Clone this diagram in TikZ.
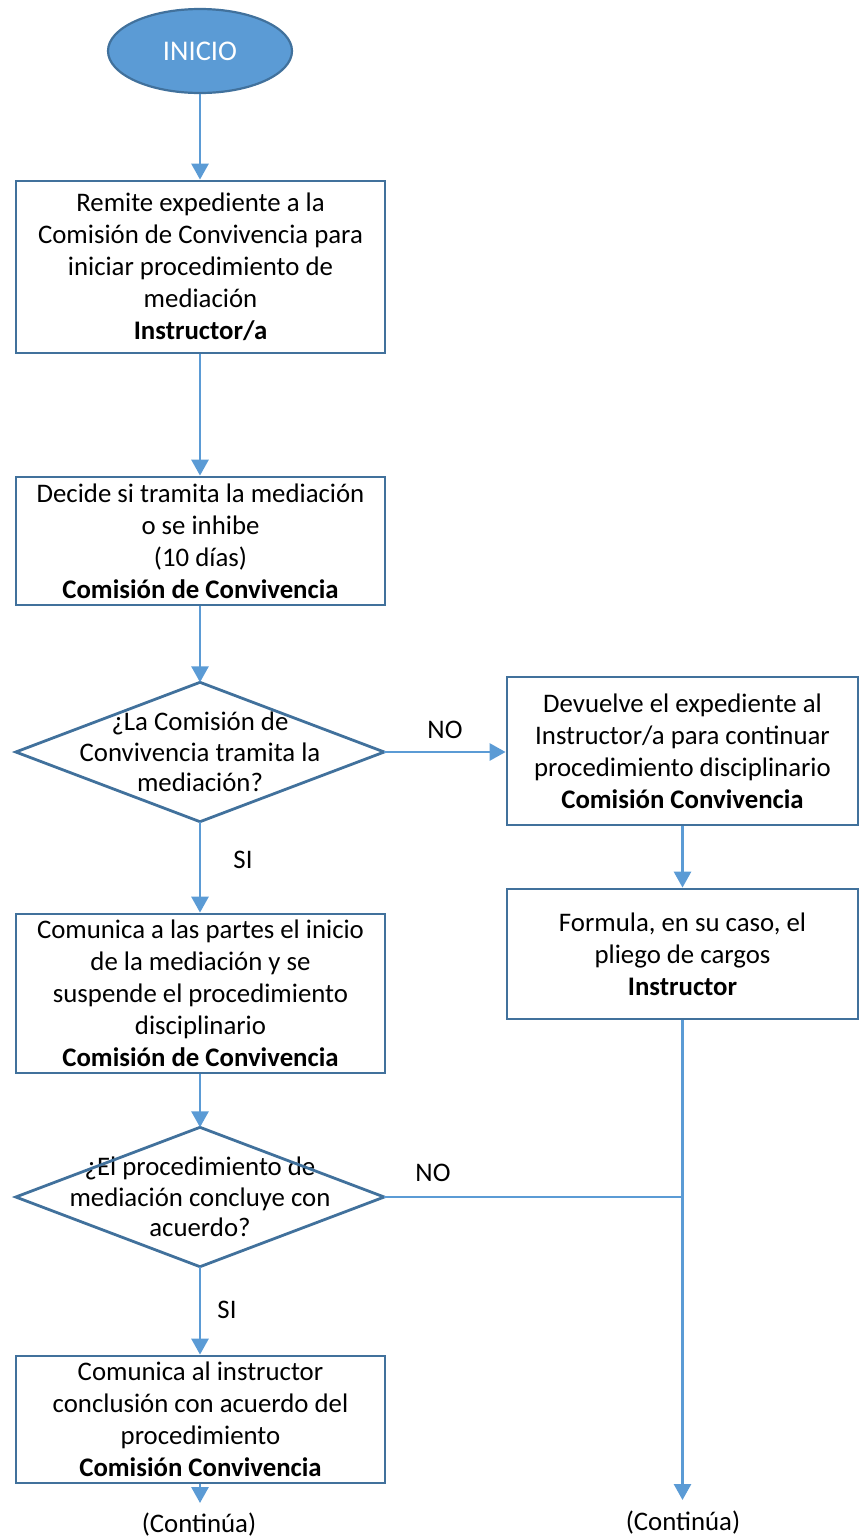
\documentclass[tikz,border=0pt]{standalone}
\usepackage{fontspec}
\setmainfont{Carlito}
\usetikzlibrary{shapes.geometric,arrows.meta}
\definecolor{boxline}{HTML}{41719C}
\definecolor{connblue}{HTML}{5B9BD5}
\begin{document}
\begin{tikzpicture}[x=1pt,y=-1pt,
  txt/.style={font=\fontsize{26.8}{32}\selectfont, align=center, inner sep=0pt},
  procbox/.style={txt, draw=boxline, line width=2.8pt, rectangle, minimum width=369pt},
  rightbox/.style={txt, draw=boxline, line width=2.8pt, rectangle, minimum width=351pt},
  decbox/.style={font=\fontsize{26.8}{30.5}\selectfont, align=center, inner sep=0pt, minimum width=368pt, minimum height=139pt},
  decshape/.style={draw=boxline, line width=2.8pt, line join=miter},
  arrowline/.style={draw=connblue, line width=2.8pt, -{Triangle[length=16pt,width=17pt]}},
  plainline/.style={draw=connblue, line width=2.8pt},
  lab/.style={txt}
]
\useasboundingbox (0,0) rectangle (865,1540);

\node[ellipse, fill=connblue, draw=boxline, line width=2.2pt, minimum width=184pt, minimum height=84pt, inner sep=0pt, text=white, font=\fontsize{28.5}{32}\selectfont] (start) at (200,51) {INICIO};

\node[procbox, minimum height=172pt] (b1) at (200.5,267) {Remite expediente a la\\Comisión de Convivencia para\\iniciar procedimiento de\\mediación\\\textbf{Instructor/a}};

\node[procbox, minimum height=128pt] (b2) at (200.5,541) {Decide si tramita la mediación\\o se inhibe\\(10 días)\\\textbf{Comisión de Convivencia}};

\node[decbox] (d1) at (200,752) {¿La Comisión de\\Convivencia tramita la\\mediación?};
\draw[decshape] (d1.north) -- (d1.east) -- (d1.south) -- (d1.west) -- cycle;

\node[rightbox, minimum height=148pt] (b3) at (682.5,751) {Devuelve el expediente al\\Instructor/a para continuar\\procedimiento disciplinario\\\textbf{Comisión Convivencia}};

\node[rightbox, minimum height=130pt] (b4) at (682.5,954) {Formula, en su caso, el\\pliego de cargos\\\textbf{Instructor}};

\node[procbox, minimum height=159pt] (b5) at (200.5,993.5) {Comunica a las partes el inicio\\de la mediación y se\\suspende el procedimiento\\disciplinario\\\textbf{Comisión de Convivencia}};

\node[decbox] (d2) at (200,1197) {¿El procedimiento de\\mediación concluye con\\acuerdo?};
\draw[decshape] (d2.north) -- (d2.east) -- (d2.south) -- (d2.west) -- cycle;

\node[procbox, minimum height=127pt] (b6) at (200.5,1419.5) {Comunica al instructor\\conclusión con acuerdo del\\procedimiento\\\textbf{Comisión Convivencia}};

\coordinate (endL) at (200,1503);
\coordinate (endR) at (682.5,1500);

\node[lab] (no1) at (445,730) {NO};
\node[lab] (si1) at (243,860) {SI};
\node[lab] (no2) at (433,1173) {NO};
\node[lab] (si2) at (227,1310) {SI};
\node[lab] (contL) at (199,1525) {(Continúa)};
\node[lab] (contR) at (683,1523) {(Continúa)};

\draw[arrowline] (start.south) -- (start.south |- b1.north);
\draw[arrowline] (d1.north |- b1.south) -- (d1.north |- b2.north);
\draw[arrowline] (d1.north |- b2.south) -- (d1.north);
\draw[arrowline] (d1.east) -- (d1.east -| b3.west);
\draw[arrowline] (b3.south) -- (b4.north);
\draw[arrowline] (d1.south) -- (d1.south |- b5.north);
\draw[arrowline] (d2.north |- b5.south) -- (d2.north);
\draw[arrowline] (d2.south) -- (d2.south |- b6.north);
\draw[arrowline] (d2.south |- b6.south) -- (endL);
\draw[arrowline] (b4.south) -- (endR);
\draw[plainline] (d2.east) -- (d2.east -| b4.south);
\end{tikzpicture}
\end{document}
